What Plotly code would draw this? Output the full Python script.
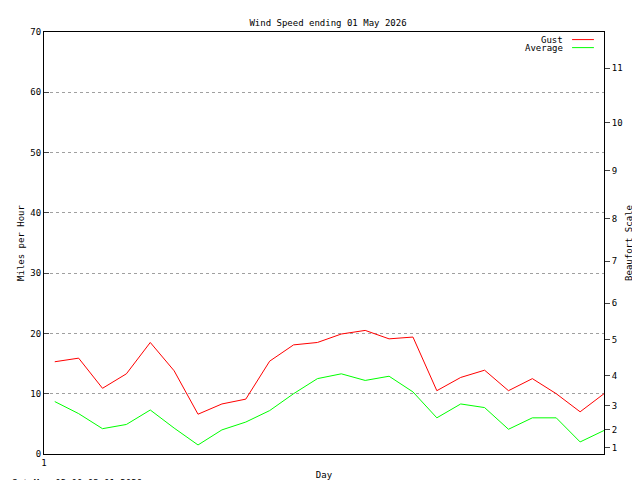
import plotly.graph_objects as go

days = [1.45 + i for i in range(24)]
gust = [15.3, 15.9, 10.9, 13.3, 18.5, 13.8, 6.6, 8.3, 9.1, 15.4, 18.1, 18.5,
        19.9, 20.5, 19.1, 19.4, 10.5, 12.7, 13.9, 10.5, 12.5, 10.0, 7.0, 10.0]
average = [8.7, 6.7, 4.2, 4.9, 7.3, 4.3, 1.5, 4.0, 5.3, 7.2, 10.0, 12.5,
           13.3, 12.2, 12.9, 10.3, 6.0, 8.3, 7.7, 4.1, 6.0, 6.0, 2.0, 3.9]
mph_ticks = [0, 10, 20, 30, 40, 50, 60, 70]
beaufort_mph = [1, 4, 8, 13, 19, 25, 32, 39, 47, 55, 64]
beaufort_labels = [str(i) for i in range(1, 12)]

F = "DejaVu Sans Mono"
TF = dict(size=9, family=F, color="black")
fig = go.Figure()
fig.add_trace(go.Scatter(x=days, y=gust, mode="lines", line=dict(color="#ff0000", width=1), name="Gust"))
fig.add_trace(go.Scatter(x=days, y=average, mode="lines", line=dict(color="#00ff00", width=1), name="Average"))
fig.add_trace(go.Scatter(x=[days[0]], y=[None], yaxis="y2", showlegend=False, hoverinfo="skip"))

fig.update_layout(
    width=640, height=480, plot_bgcolor="white", paper_bgcolor="white",
    margin=dict(l=36, r=44, t=24, b=34, autoexpand=False),
    font=dict(family=F, size=9, color="black"),
    showlegend=False,
    title=dict(text="Wind Speed ending 01 May 2026", x=0.5, xanchor="center", y=0.975, font=TF),
    xaxis=dict(range=[1, 24.45], tickvals=[1], ticktext=["1"], ticks="inside", ticklen=5,
               showline=True, linecolor="black", mirror=True, showgrid=False, zeroline=False,
               automargin=False, tickfont=TF, title=dict(text="Day", standoff=4, font=TF)),
    yaxis=dict(range=[0, 70], tickvals=mph_ticks, ticks="inside", ticklen=5,
               showline=True, linecolor="black", mirror=True, zeroline=False, automargin=False,
               showgrid=True, gridcolor="#a0a0a0", griddash="dot", gridwidth=1, tickfont=TF,
               title=dict(text="Miles per Hour", standoff=4, font=TF)),
    yaxis2=dict(range=[0, 70], overlaying="y", side="right", tickvals=beaufort_mph,
                ticktext=beaufort_labels, ticks="outside", ticklen=5, showgrid=False,
                zeroline=False, automargin=False, tickfont=TF,
                title=dict(text="Beaufort Scale", standoff=4, font=TF)),
)
fig.add_annotation(text="Sat May 02 00:03:01 2026", xref="paper", yref="paper",
                   x=-0.061, y=-0.068, xanchor="left", yanchor="middle", showarrow=False, font=TF)
for i, (nm, col) in enumerate([("Gust", "#ff0000"), ("Average", "#00ff00")]):
    yy = 0.982 - i * 0.019
    fig.add_annotation(text=nm, xref="paper", yref="paper", x=0.93, y=yy,
                       xanchor="right", yanchor="middle", showarrow=False, font=TF)
    fig.add_shape(type="line", xref="paper", yref="paper", x0=0.943, x1=0.982, y0=yy, y1=yy,
                  line=dict(color=col, width=1))
fig.write_html("out.html")
